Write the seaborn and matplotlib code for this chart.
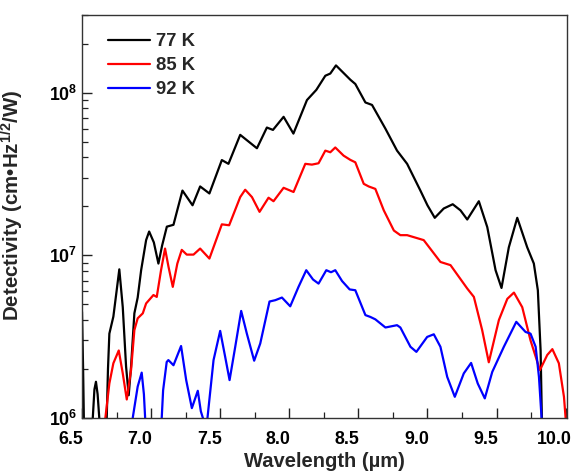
import numpy as np
import pandas as pd
import matplotlib
matplotlib.use("Agg")
import matplotlib.pyplot as plt
import matplotlib.transforms as mtransforms
import seaborn as sns
from matplotlib.ticker import LogLocator, MultipleLocator, NullFormatter, FixedLocator

# ---------------- data ----------------
labels = ["77 K", "85 K", "92 K"]
colors = ["#000000", "#FF0000", "#0000FF"]

w77 = [6.500, 6.508, 6.515, 6.550, 6.565, 6.578, 6.590, 6.601, 6.613, 6.625, 6.640, 6.665,
       6.679, 6.688, 6.698, 6.727, 6.750, 6.770, 6.795, 6.819, 6.838, 6.855, 6.879, 6.903,
       6.928, 6.964, 6.986, 7.020, 7.053, 7.080, 7.114, 7.162, 7.190, 7.227, 7.300, 7.355,
       7.422, 7.512, 7.560, 7.645, 7.766, 7.838, 7.882, 7.959, 8.030, 8.128, 8.196, 8.261,
       8.297, 8.338, 8.442, 8.478, 8.551, 8.599, 8.696, 8.780, 8.853, 8.949, 9.000, 9.053,
       9.118, 9.183, 9.239, 9.288, 9.372, 9.433, 9.493, 9.536, 9.589, 9.650, 9.722, 9.770,
       9.799, 9.819, 9.828, 9.835]
d77 = [4.5e6, 2.0e6, 0.8e6, 0.6e6, 0.7e6, 1.0e6, 1.5e6, 1.67e6, 1.4e6, 1.0e6, 0.7e6, 0.7e6,
       1.0e6, 2.0e6, 3.3e6, 4.2e6, 6.0e6, 8.2e6, 4.8e6, 2.07e6, 1.38e6, 2.07e6, 4.4e6, 5.5e6,
       8.1e6, 1.24e7, 1.4e7, 1.2e7, 8.9e6, 1.15e7, 1.5e7, 1.54e7, 1.9e7, 2.5e7, 2.03e7, 2.65e7,
       2.4e7, 3.85e7, 3.65e7, 5.5e7, 4.55e7, 6.1e7, 5.9e7, 7.1e7, 5.6e7, 9.0e7, 1.04e8, 1.27e8,
       1.31e8, 1.47e8, 1.2e8, 1.13e8, 8.7e7, 8.4e7, 6.0e7, 4.4e7, 3.65e7, 2.5e7, 2.03e7, 1.7e7,
       1.94e7, 2.06e7, 1.89e7, 1.66e7, 2.15e7, 1.49e7, 8.1e6, 6.3e6, 1.12e7, 1.7e7, 1.12e7, 8.9e6,
       6.1e6, 2.6e6, 1.0e6, 0.5e6]

w85 = [6.640, 6.669, 6.698, 6.727, 6.766, 6.795, 6.824, 6.855, 6.879, 6.903, 6.940, 6.964,
       7.017, 7.041, 7.072, 7.101, 7.126, 7.157, 7.190, 7.222, 7.258, 7.307, 7.355, 7.422,
       7.512, 7.565, 7.645, 7.681, 7.730, 7.785, 7.850, 7.886, 7.959, 8.031, 8.116, 8.164,
       8.212, 8.261, 8.297, 8.333, 8.393, 8.442, 8.478, 8.539, 8.575, 8.623, 8.684, 8.757,
       8.804, 8.853, 8.973, 9.094, 9.167, 9.288, 9.336, 9.396, 9.444, 9.517, 9.578, 9.626,
       9.686, 9.746, 9.814, 9.867, 9.904, 9.951, 9.988, 10.000, 10.010]
d85 = [0.6e6, 1.0e6, 1.63e6, 2.17e6, 2.6e6, 1.88e6, 1.3e6, 1.97e6, 3.47e6, 4.1e6, 4.4e6, 5.06e6,
       5.7e6, 5.55e6, 8.1e6, 1.1e7, 8.5e6, 6.4e6, 8.9e6, 1.08e7, 1.01e7, 1.01e7, 1.1e7, 9.55e6,
       1.55e7, 1.53e7, 2.28e7, 2.53e7, 2.28e7, 1.85e7, 2.26e7, 2.15e7, 2.6e7, 2.45e7, 3.65e7, 3.61e7,
       3.68e7, 4.4e7, 4.3e7, 4.6e7, 4.1e7, 3.86e7, 3.73e7, 2.75e7, 2.65e7, 2.56e7, 1.89e7, 1.42e7,
       1.33e7, 1.33e7, 1.24e7, 9.1e6, 8.7e6, 6.25e6, 5.55e6, 3.47e6, 2.2e6, 4.0e6, 5.4e6, 5.9e6,
       4.8e6, 3.0e6, 1.97e6, 2.44e6, 2.65e6, 2.17e6, 1.35e6, 1.0e6, 0.8e6]

w92 = [6.850, 6.867, 6.903, 6.932, 6.948, 6.957, 6.975, 7.060, 7.077, 7.087, 7.113, 7.125,
       7.162, 7.217, 7.254, 7.295, 7.338, 7.360, 7.375, 7.390, 7.400, 7.408, 7.452, 7.500,
       7.536, 7.568, 7.609, 7.652, 7.693, 7.746, 7.790, 7.857, 7.899, 7.947, 8.007, 8.067,
       8.123, 8.172, 8.212, 8.268, 8.302, 8.333, 8.382, 8.437, 8.478, 8.551, 8.587, 8.623,
       8.696, 8.780, 8.804, 8.877, 8.920, 8.998, 9.046, 9.094, 9.143, 9.198, 9.263, 9.316,
       9.364, 9.415, 9.469, 9.553, 9.643, 9.710, 9.746, 9.783, 9.807, 9.826, 9.833]
d92 = [0.7e6, 1.0e6, 1.56e6, 1.9e6, 1.4e6, 1.0e6, 0.7e6, 0.7e6, 1.0e6, 1.48e6, 2.21e6, 2.27e6,
       2.11e6, 2.77e6, 1.71e6, 1.15e6, 1.47e6, 1.1e6, 1.0e6, 0.7e6, 0.7e6, 1.0e6, 2.27e6, 3.43e6,
       2.38e6, 1.71e6, 2.74e6, 4.55e6, 3.3e6, 2.25e6, 2.87e6, 5.2e6, 5.3e6, 5.5e6, 4.86e6, 6.4e6,
       8.1e6, 7.1e6, 6.7e6, 8.1e6, 7.87e6, 8.1e6, 6.95e6, 6.17e6, 6.1e6, 4.29e6, 4.18e6, 4.04e6,
       3.6e6, 3.72e6, 3.6e6, 2.74e6, 2.55e6, 3.15e6, 3.27e6, 2.74e6, 1.79e6, 1.35e6, 1.88e6, 2.18e6,
       1.63e6, 1.32e6, 1.92e6, 2.74e6, 3.9e6, 3.38e6, 3.3e6, 2.74e6, 1.79e6, 1.0e6, 0.6e6]

xticks = [6.5, 7.0, 7.5, 8.0, 8.5, 9.0, 9.5, 10.0]
xticklabels = ["6.5", "7.0", "7.5", "8.0", "8.5", "9.0", "9.5", "10.0"]
yticks = [1e6, 1e7, 1e8]
yticklabels = ["10$^{6}$", "10$^{7}$", "10$^{8}$"]

# ---------------- build table ----------------
frames = []
for lab, w, d in zip(labels, [w77, w85, w92], [d77, d85, d92]):
    frames.append(pd.DataFrame({"w": w, "d": d, "T": lab}))
df = pd.concat(frames, ignore_index=True)

sns.set_theme(style="ticks")
plt.rcParams["font.family"] = ["Liberation Sans", "DejaVu Sans"]
plt.rcParams["font.weight"] = "bold"
plt.rcParams["mathtext.fontset"] = "custom"
plt.rcParams["mathtext.rm"] = "Liberation Sans:bold"
plt.rcParams["mathtext.it"] = "Liberation Sans:bold"
plt.rcParams["mathtext.bf"] = "Liberation Sans:bold"

fig = plt.figure(figsize=(5.79, 4.74), dpi=100)
ax = fig.add_axes([82 / 579, 1 - 418 / 474, (567 - 82) / 579, (418 - 15) / 474])

sns.lineplot(data=df, x="w", y="d", hue="T", palette=dict(zip(labels, colors)),
             estimator=None, sort=False, linewidth=1.6, ax=ax)

ax.set_yscale("log")
ax.set_xlim(6.5, 10.01)
ax.set_ylim(1e6, 3e8)

ax.xaxis.set_major_locator(FixedLocator(xticks))
ax.set_xticklabels(xticklabels)
ax.xaxis.set_minor_locator(MultipleLocator(0.25))
ax.yaxis.set_major_locator(FixedLocator(yticks))
ax.set_yticklabels(yticklabels)
ax.yaxis.set_minor_locator(LogLocator(base=10, subs=np.arange(2, 10)))
ax.yaxis.set_minor_formatter(NullFormatter())

ax.tick_params(which="major", direction="in", length=7, width=1.0, labelsize=12.8,
               top=False, right=False, colors="#222222", labelcolor="black")
ax.tick_params(which="minor", direction="in", length=4, width=0.9, top=False, right=False,
               colors="#222222")
ax.tick_params(axis="x", which="major", pad=9.5)

shift = mtransforms.ScaledTranslation(-11 / 100, 0, fig.dpi_scale_trans)
for lbl in ax.get_xticklabels():
    lbl.set_fontweight("bold")
    lbl.set_transform(lbl.get_transform() + shift)
for lbl in ax.get_yticklabels():
    lbl.set_fontweight("bold")

for s in ax.spines.values():
    s.set_linewidth(1.0)
    s.set_color("#333333")

ax.set_xlabel("Wavelength (\u00b5m)", fontsize=14.5, fontweight="bold", labelpad=3)
ax.set_ylabel("Detectivity (cm\u2022Hz$^{1/2}$/W)", fontsize=14.8, fontweight="bold")
ax.yaxis.set_label_coords(-0.115, 0.528)

leg = ax.legend(loc="upper left", bbox_to_anchor=(0.02, 0.996), frameon=False,
                handlelength=2.27, handletextpad=0.3, labelspacing=0.38,
                prop={"size": 13.3, "weight": "bold"})
for line in leg.get_lines():
    line.set_linewidth(1.6)

fig.savefig("out.png", dpi=100)
